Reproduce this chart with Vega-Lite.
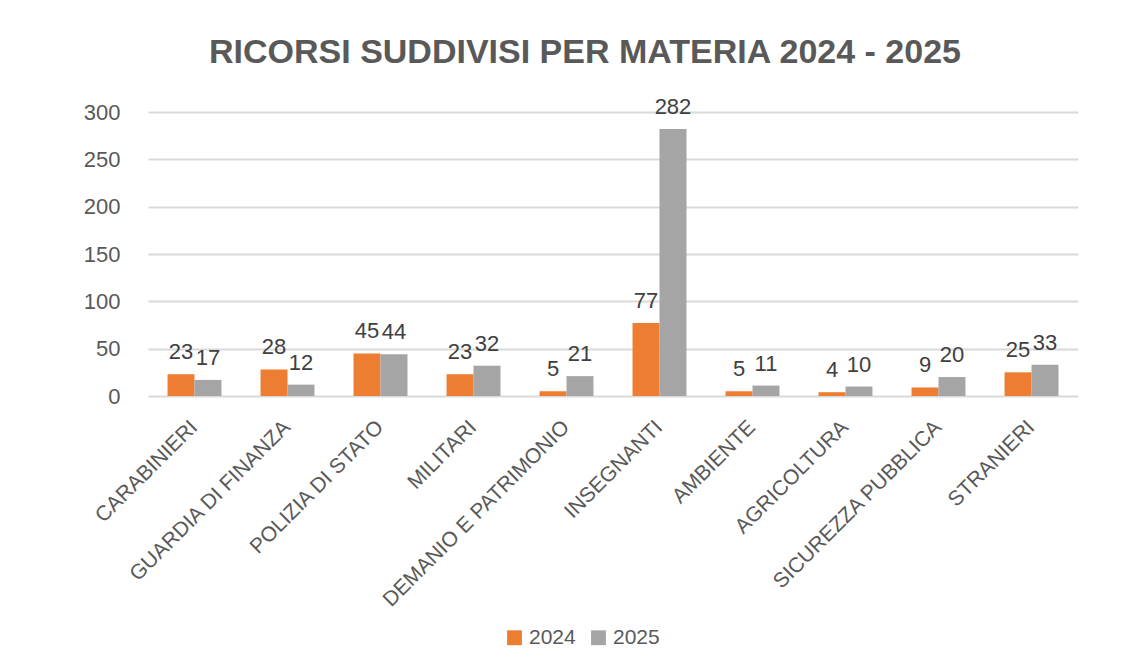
{
  "$schema": "https://vega.github.io/schema/vega-lite/v6.json",
  "autosize": "none",
  "width": 930,
  "height": 284,
  "padding": {"left": 148, "top": 112, "right": 68, "bottom": 275},
  "background": "white",
  "title": {
    "text": "RICORSI SUDDIVISI PER MATERIA 2024 - 2025",
    "font": "Liberation Sans",
    "fontSize": 34,
    "fontWeight": "bold",
    "color": "#595959",
    "anchor": "middle",
    "dx": -28,
    "offset": 26
  },
  "data": {
    "values": [
      {"materia": "CARABINIERI", "anno": "2024", "ricorsi": 23},
      {"materia": "CARABINIERI", "anno": "2025", "ricorsi": 17},
      {"materia": "GUARDIA DI FINANZA", "anno": "2024", "ricorsi": 28},
      {"materia": "GUARDIA DI FINANZA", "anno": "2025", "ricorsi": 12},
      {"materia": "POLIZIA DI STATO", "anno": "2024", "ricorsi": 45},
      {"materia": "POLIZIA DI STATO", "anno": "2025", "ricorsi": 44},
      {"materia": "MILITARI", "anno": "2024", "ricorsi": 23},
      {"materia": "MILITARI", "anno": "2025", "ricorsi": 32},
      {"materia": "DEMANIO E PATRIMONIO", "anno": "2024", "ricorsi": 5},
      {"materia": "DEMANIO E PATRIMONIO", "anno": "2025", "ricorsi": 21},
      {"materia": "INSEGNANTI", "anno": "2024", "ricorsi": 77},
      {"materia": "INSEGNANTI", "anno": "2025", "ricorsi": 282},
      {"materia": "AMBIENTE", "anno": "2024", "ricorsi": 5},
      {"materia": "AMBIENTE", "anno": "2025", "ricorsi": 11},
      {"materia": "AGRICOLTURA", "anno": "2024", "ricorsi": 4},
      {"materia": "AGRICOLTURA", "anno": "2025", "ricorsi": 10},
      {"materia": "SICUREZZA PUBBLICA", "anno": "2024", "ricorsi": 9},
      {"materia": "SICUREZZA PUBBLICA", "anno": "2025", "ricorsi": 20},
      {"materia": "STRANIERI", "anno": "2024", "ricorsi": 25},
      {"materia": "STRANIERI", "anno": "2025", "ricorsi": 33}
    ]
  },
  "encoding": {
    "x": {
      "field": "materia",
      "type": "nominal",
      "sort": null,
      "title": null,
      "scale": {"paddingInner": 0.42, "paddingOuter": 0.21},
      "axis": {
        "labelAngle": -45,
        "labelFontSize": 21,
        "labelFont": "Liberation Sans",
        "labelColor": "#595959",
        "labelLimit": 0,
        "domain": false,
        "ticks": false,
        "labelPadding": 20,
        "labelOffset": -8
      }
    },
    "xOffset": {"field": "anno", "type": "nominal"},
    "y": {
      "field": "ricorsi",
      "type": "quantitative",
      "title": null,
      "scale": {"domain": [0, 300], "nice": false},
      "axis": {
        "values": [0, 50, 100, 150, 200, 250, 300],
        "labelFontSize": 22,
        "labelFont": "Liberation Sans",
        "labelColor": "#595959",
        "domain": false,
        "ticks": false,
        "labelPadding": 28,
        "gridColor": "#D9D9D9",
        "gridWidth": 2
      }
    },
    "color": {
      "field": "anno",
      "type": "nominal",
      "title": null,
      "scale": {"domain": ["2024", "2025"], "range": ["#ED7D31", "#A5A5A5"]},
      "legend": {
        "orient": "none",
        "direction": "horizontal",
        "legendX": 356,
        "legendY": 515,
        "symbolType": "square",
        "symbolSize": 220,
        "symbolStrokeWidth": 0,
        "symbolOpacity": 1,
        "labelFontSize": 21,
        "labelFont": "Liberation Sans",
        "labelColor": "#595959",
        "columnPadding": 12
      }
    }
  },
  "layer": [
    {"mark": {"type": "bar", "stroke": null}},
    {
      "mark": {
        "type": "text",
        "baseline": "bottom",
        "dy": -10,
        "fontSize": 22,
        "font": "Liberation Sans",
        "color": "#404040"
      },
      "encoding": {
        "text": {"field": "ricorsi", "type": "quantitative"},
        "color": {"value": "#404040"}
      }
    }
  ],
  "config": {
    "view": {"stroke": null}
  }
}
